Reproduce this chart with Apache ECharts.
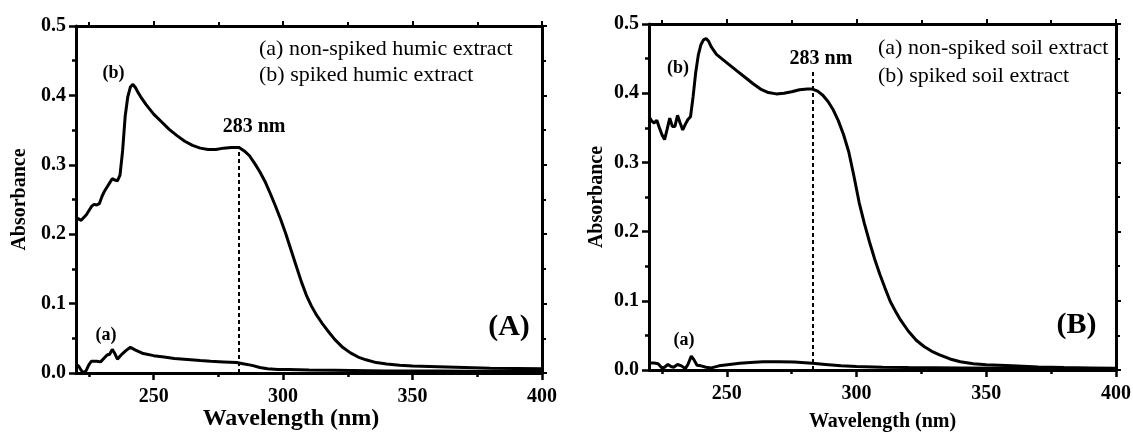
<!DOCTYPE html>
<html>
<head>
<meta charset="utf-8">
<script src="https://cdn.jsdelivr.net/npm/echarts@6/dist/echarts.min.js"></script>
<style>
  html, body { margin: 0; padding: 0; background: #fff; }
  #chart { width: 1133px; height: 433px; }
</style>
</head>
<body>
<div id="chart"></div>
<script>
// UV absorbance spectra of humic (A) and soil (B) extracts, non-spiked vs spiked

// Panel A: humic extract
const humicSpikedWl = [220, 221, 222, 224, 226, 227, 228, 229, 230, 231, 232, 233, 234, 235, 236, 237, 238, 239, 240, 241, 242, 243, 244, 245, 247, 250, 253, 256, 259, 262, 265, 268, 271, 274, 277, 280, 283, 285, 287, 289, 291, 293, 295, 297, 299, 301, 303, 305, 307, 309, 311, 313, 315, 317, 320, 323, 326, 329, 332, 336, 340, 345, 350, 360, 370, 380, 390, 400];
const humicSpikedAbs = [0.224, 0.222, 0.220, 0.228, 0.240, 0.243, 0.242, 0.244, 0.254, 0.262, 0.268, 0.274, 0.280, 0.278, 0.277, 0.285, 0.320, 0.370, 0.398, 0.412, 0.416, 0.411, 0.404, 0.398, 0.387, 0.373, 0.362, 0.351, 0.342, 0.334, 0.328, 0.324, 0.322, 0.322, 0.324, 0.325, 0.325, 0.320, 0.313, 0.302, 0.290, 0.276, 0.259, 0.241, 0.222, 0.201, 0.178, 0.155, 0.132, 0.112, 0.096, 0.083, 0.072, 0.062, 0.048, 0.037, 0.029, 0.023, 0.019, 0.015, 0.013, 0.011, 0.010, 0.009, 0.008, 0.007, 0.0065, 0.006];

const humicPlainWl = [220, 221, 222, 223, 224, 225, 226, 228, 229.5, 231, 232, 233, 234, 235, 236, 237, 238, 239.5, 241, 243, 246, 250, 254, 258, 263, 268, 272, 277, 282, 285, 288, 291, 294, 298, 302, 310, 320, 340, 360, 380, 400];
const humicPlainAbs = [0.013, 0.010, 0.004, 0.000, 0.004, 0.012, 0.017, 0.017, 0.016, 0.022, 0.026, 0.027, 0.034, 0.028, 0.020, 0.024, 0.028, 0.033, 0.037, 0.033, 0.028, 0.025, 0.023, 0.021, 0.0195, 0.018, 0.017, 0.016, 0.015, 0.013, 0.011, 0.008, 0.006, 0.005, 0.005, 0.0045, 0.004, 0.003, 0.003, 0.002, 0.002];

// Panel B: soil extract
const soilSpikedWl = [220, 221, 222, 223, 224, 225, 226, 227, 228, 229, 230, 231, 232, 233, 234, 235, 236, 237, 238, 239, 240, 241, 242, 243, 244, 246, 248, 251, 254, 257, 260, 263, 266, 269, 272, 275, 278, 281, 283, 285, 287, 289, 291, 293, 295, 297, 299, 301, 303, 305, 307, 309, 311, 313, 315, 317, 320, 323, 326, 329, 332, 336, 340, 345, 350, 360, 370, 380, 390, 400];
const soilSpikedAbs = [0.366, 0.360, 0.357, 0.361, 0.350, 0.340, 0.333, 0.348, 0.364, 0.352, 0.352, 0.368, 0.357, 0.347, 0.355, 0.362, 0.366, 0.395, 0.430, 0.455, 0.470, 0.477, 0.479, 0.475, 0.467, 0.456, 0.450, 0.441, 0.432, 0.423, 0.414, 0.406, 0.401, 0.399, 0.400, 0.402, 0.405, 0.406, 0.406, 0.403, 0.397, 0.388, 0.376, 0.360, 0.340, 0.315, 0.280, 0.242, 0.212, 0.185, 0.160, 0.138, 0.118, 0.099, 0.085, 0.072, 0.056, 0.043, 0.034, 0.027, 0.022, 0.016, 0.012, 0.009, 0.0075, 0.006, 0.0045, 0.0035, 0.003, 0.0025];

const soilPlainWl = [220, 222, 223.5, 225, 226, 227.3, 228.5, 229.5, 231, 232.5, 234, 235, 236.3, 237.3, 238.5, 240, 242, 244, 247, 251, 255, 259, 264, 270, 276, 283, 288, 294, 300, 310, 320, 340, 360, 380, 400];
const soilPlainAbs = [0.010, 0.010, 0.009, 0.003, 0.004, 0.008, 0.005, 0.004, 0.008, 0.006, 0.002, 0.008, 0.020, 0.015, 0.007, 0.006, 0.004, 0.003, 0.006, 0.008, 0.0097, 0.011, 0.012, 0.012, 0.0115, 0.0097, 0.008, 0.006, 0.005, 0.004, 0.0035, 0.003, 0.0025, 0.002, 0.0015];

// Axis ticks
const wavelengthMajorTicks = [250, 300, 350, 400];
const wavelengthMinorTicks = [225, 275, 325, 375];
const peakWavelength = 283;
const humicDropTop = 0.327;
const soilDropTop = 0.433;

const FONT = '"Liberation Serif", "Times New Roman", Times, serif';
const BLACK = '#000';

function pairs(xs, ys) { return xs.map((x, i) => [x, ys[i]]); }

function wavelengthAxes(gridIndex, opts) {
  const base = {
    type: 'value', gridIndex: gridIndex, min: 220, max: 400,
    splitLine: { show: false }
  };
  const line = { onZero: false, lineStyle: { color: BLACK, width: 3 } };
  return [
    Object.assign({}, base, {
      position: 'bottom',
      axisLine: line,
      axisTick: { customValues: wavelengthMajorTicks, length: 7, lineStyle: { color: BLACK, width: 2.5 } },
      axisLabel: {
        customValues: wavelengthMajorTicks, margin: opts.labelMargin,
        fontFamily: FONT, fontWeight: 'bold', fontSize: 20, color: BLACK
      },
      name: 'Wavelength (nm)', nameLocation: 'middle', nameGap: opts.nameGap,
      nameMoveOverlap: false,
      nameTextStyle: {
        fontFamily: FONT, fontWeight: 'bold', fontSize: opts.nameSize, color: BLACK,
        padding: opts.namePadding
      }
    }),
    Object.assign({}, base, {
      position: 'bottom',
      axisLine: { show: false, onZero: false },
      axisTick: { customValues: wavelengthMinorTicks, length: 4, lineStyle: { color: BLACK, width: 2.5 } },
      axisLabel: { show: false }
    }),
    Object.assign({}, base, {
      position: 'top',
      axisLine: line,
      axisTick: { customValues: wavelengthMajorTicks, length: 5, lineStyle: { color: BLACK, width: 2 } },
      axisLabel: { show: false }
    }),
    Object.assign({}, base, {
      position: 'top',
      axisLine: { show: false, onZero: false },
      axisTick: { customValues: wavelengthMinorTicks, length: 4, lineStyle: { color: BLACK, width: 2 } },
      axisLabel: { show: false }
    })
  ];
}

function absorbanceAxes(gridIndex, nameGap) {
  const base = {
    type: 'value', gridIndex: gridIndex, min: 0, max: 0.5, interval: 0.1,
    splitLine: { show: false }, minorSplitLine: { show: false },
    axisLine: { show: true, onZero: false, lineStyle: { color: BLACK, width: 3 } }
  };
  return [
    Object.assign({}, base, {
      position: 'left',
      axisTick: { show: true, length: 7, lineStyle: { color: BLACK, width: 2.5 } },
      minorTick: { show: true, splitNumber: 2, length: 4, lineStyle: { color: BLACK, width: 2.5 } },
      axisLabel: {
        formatter: v => v.toFixed(1), margin: 10,
        fontFamily: FONT, fontWeight: 'bold', fontSize: 20, color: BLACK
      },
      name: 'Absorbance', nameLocation: 'middle', nameGap: nameGap,
      nameMoveOverlap: false,
      nameTextStyle: { fontFamily: FONT, fontWeight: 'bold', fontSize: 20, color: BLACK }
    }),
    Object.assign({}, base, {
      position: 'right',
      axisTick: { show: true, length: 5, lineStyle: { color: BLACK, width: 2 } },
      minorTick: { show: true, splitNumber: 2, length: 4, lineStyle: { color: BLACK, width: 2 } },
      axisLabel: { show: false }
    })
  ];
}

function spectrum(name, xs, ys, xIdx, yIdx, extra) {
  return Object.assign({
    name: name, type: 'line', xAxisIndex: xIdx, yAxisIndex: yIdx,
    data: pairs(xs, ys), showSymbol: false, symbol: 'none', silent: true,
    lineStyle: { color: BLACK, width: 3 }, z: 3
  }, extra || {});
}

function peakMarker(top, labelDistance, shiftRight) {
  return {
    markLine: {
      silent: true, symbol: ['none', 'none'],
      lineStyle: { color: BLACK, width: 2, type: [4, 3] },
      label: {
        show: true, position: 'end', formatter: peakWavelength + ' nm',
        distance: labelDistance, padding: [0, 0, 0, shiftRight * 2],
        fontFamily: FONT, fontWeight: 'bold', fontSize: 20, color: BLACK
      },
      data: [[{ coord: [peakWavelength, 0] }, { coord: [peakWavelength, top] }]]
    }
  };
}

function txt(text, x, y, size, weight, align) {
  return {
    type: 'text', x: x, y: y, silent: true,
    style: {
      text: text, fill: BLACK,
      font: (weight || 'normal') + ' ' + size + 'px ' + FONT,
      align: align || 'left', verticalAlign: 'middle',
      textAlign: align || 'left', textVerticalAlign: 'middle'
    }
  };
}

const chart = echarts.init(document.getElementById('chart'), null, { renderer: 'canvas' });
chart.setOption({
  animation: false,
  backgroundColor: '#fff',
  grid: [
    { left: 76, top: 26, width: 466, height: 347, containLabel: false, outerBoundsMode: 'none' },
    { left: 649, top: 24, width: 467, height: 346, containLabel: false, outerBoundsMode: 'none' }
  ],
  xAxis: wavelengthAxes(0, { labelMargin: 14, nameGap: 34, nameSize: 24, namePadding: [0, 36, 0, 0] })
    .concat(wavelengthAxes(1, { labelMargin: 14, nameGap: 42, nameSize: 20, namePadding: 0 })),
  yAxis: absorbanceAxes(0, 46).concat(absorbanceAxes(1, 42)),
  series: [
    spectrum('(a) non-spiked humic extract', humicPlainWl, humicPlainAbs, 0, 0),
    spectrum('(b) spiked humic extract', humicSpikedWl, humicSpikedAbs, 0, 0, peakMarker(humicDropTop, 9, 15)),
    spectrum('(a) non-spiked soil extract', soilPlainWl, soilPlainAbs, 4, 2),
    spectrum('(b) spiked soil extract', soilSpikedWl, soilSpikedAbs, 4, 2, peakMarker(soilDropTop, 2, 8.5))
  ],
  graphic: [
    txt('(a) non-spiked humic extract', 259, 49, 22),
    txt('(b) spiked humic extract', 259, 75, 22),
    txt('(b)', 113.5, 73, 18, 'bold', 'center'),
    txt('(a)', 106, 335, 18, 'bold', 'center'),
    txt('(A)', 509, 327, 30, 'bold', 'center'),
    txt('(a) non-spiked soil extract', 878, 48, 22),
    txt('(b) spiked soil extract', 878, 76, 22),
    txt('(b)', 678, 68, 18, 'bold', 'center'),
    txt('(a)', 684, 340, 18, 'bold', 'center'),
    txt('(B)', 1076.5, 325, 30, 'bold', 'center')
  ]
});
</script>
</body>
</html>
